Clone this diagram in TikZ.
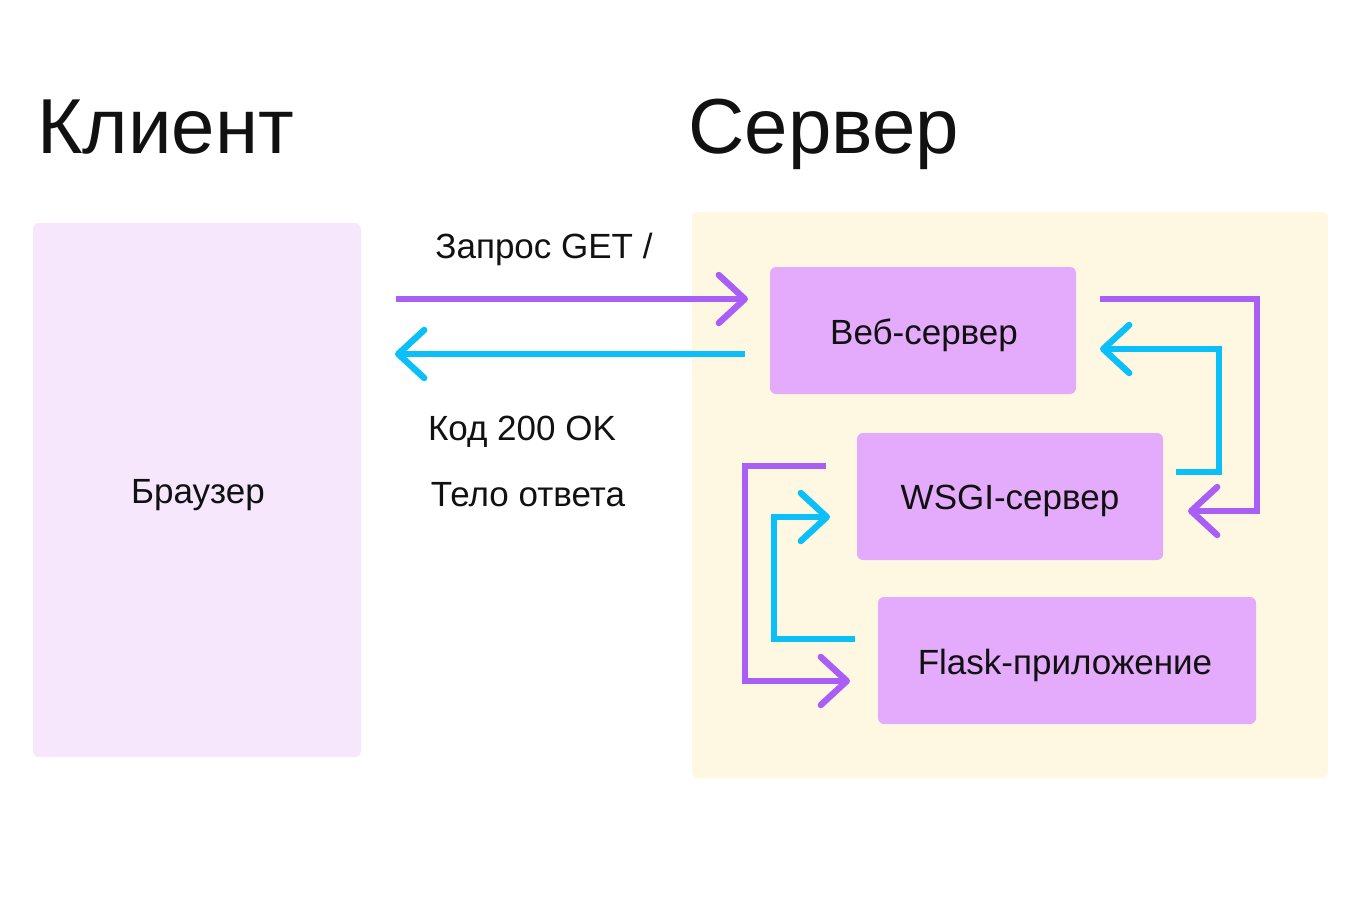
\documentclass[tikz,border=0pt]{standalone}
\usepackage{fontspec}
\setmainfont{Liberation Sans}
\usetikzlibrary{arrows.meta}
\definecolor{clientbg}{HTML}{F6E7FD}
\definecolor{serverbg}{HTML}{FEF8E2}
\definecolor{boxfill}{HTML}{E4AAFB}
\definecolor{reqcol}{HTML}{A95EF5}
\definecolor{respcol}{HTML}{0BC0F9}
\definecolor{ink}{HTML}{111111}
\tikzset{
  title/.style={anchor=base west, inner sep=0pt, text=ink, font=\fontsize{39}{44}\selectfont},
  lbl/.style={text=ink, font=\fontsize{17.5}{20}\selectfont},
  panel/.style={rounded corners=3pt, inner sep=0pt},
  procbox/.style={panel, fill=boxfill, minimum width=153pt, minimum height=63.5pt},
  tipshape/.style={-{Straight Barb[length=13pt,width=24pt,round]}},
  req/.style={draw=reqcol, line width=3.2pt, tipshape},
  resp/.style={draw=respcol, line width=3.2pt, tipshape},
}
\begin{document}
\begin{tikzpicture}[x=0.5pt,y=-0.5pt]
\useasboundingbox[fill=white] (0,0) rectangle (1368,921);

% titles
\node[title] (tclient) at (37,153) {Клиент};
\node[title] (tserver) at (688,153) {Сервер};

% panels
\node[panel, fill=clientbg, minimum width=164pt, minimum height=267pt] (browser) at (197,490) {};
\node[lbl] (browserlbl) at (198,495) {Браузер};
\node[panel, fill=serverbg, minimum width=318pt, minimum height=283pt] (server) at (1010,495) {};

% boxes
\node[procbox] (web) at (923,330.5) {};
\node[procbox] (wsgi) at (1010,496.5) {};
\node[procbox, minimum width=189pt] (flask) at (1067,660.5) {};
\node[lbl] (weblbl) at (924,335) {Веб-сервер};
\node[lbl] (wsgilbl) at (1010,501) {WSGI-сервер};
\node[lbl] (flasklbl) at (1065,665) {Flask-приложение};

% labels
\node[lbl] (reqlbl) at (544,249) {Запрос GET /};
\node[lbl] (codelbl) at (522,432) {Код 200 OK};
\node[lbl] (bodylbl) at (528,495) {Тело ответа};

% coordinates for connector ends
\coordinate (a1) at (396,299);
\coordinate (a2) at (748,299);
\coordinate (b1) at (745,354);
\coordinate (b2) at (395,354);

\coordinate (c1) at (1100,299);
\coordinate (c2) at (1257,299);
\coordinate (c3) at (1257,511);
\coordinate (c4) at (1188,511);

\coordinate (d1) at (1176,472);
\coordinate (d2) at (1219,472);
\coordinate (d3) at (1219,349);
\coordinate (d4) at (1100,349);

\coordinate (e1) at (826,466);
\coordinate (e2) at (745,466);
\coordinate (e3) at (745,681);
\coordinate (e4) at (850,681);

\coordinate (f1) at (855,639);
\coordinate (f2) at (774,639);
\coordinate (f3) at (774,517);
\coordinate (f4) at (830,517);

\draw[req] (a1) -- (a2);
\draw[resp] (b1) -- (b2);
\draw[req] (c1) -- (c2) -- (c3) -- (c4);
\draw[resp] (d1) -- (d2) -- (d3) -- (d4);
\draw[req] (e1) -- (e2) -- (e3) -- (e4);
\draw[resp] (f1) -- (f2) -- (f3) -- (f4);
\end{tikzpicture}
\end{document}
